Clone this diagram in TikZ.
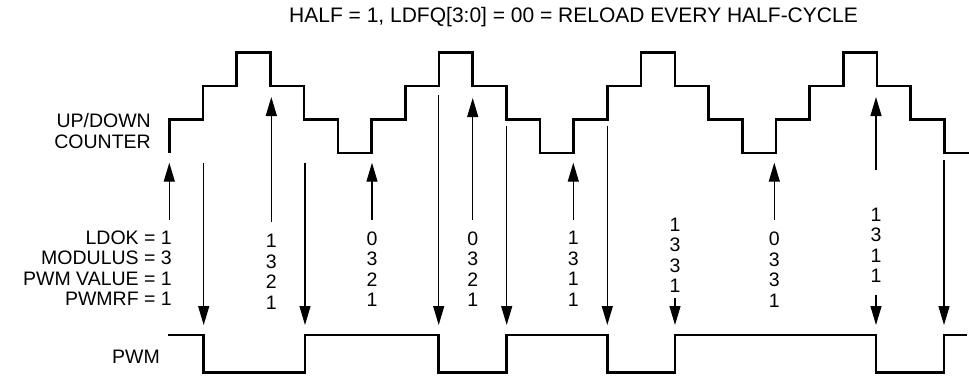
\documentclass[tikz,border=0pt]{standalone}
\usepackage{fontspec}
\setmainfont{Liberation Sans}
\usetikzlibrary{arrows.meta}
\tikzset{
  wave/.style={line width=2.6pt,line join=miter},
  trig/.style={line width=1.25pt,-{Triangle[length=19pt,width=11pt]}},
  caption/.style={font=\fontsize{19.5}{20.5}\selectfont,inner sep=0pt},
  headline/.style={font=\fontsize{21}{22}\selectfont,inner sep=0pt},
  vals/.style={caption,align=center},
  sigtag/.style={caption,align=right,anchor=east},
}

\begin{document}
\begin{tikzpicture}[x=1pt,y=-1pt]
\useasboundingbox (0,0) rectangle (969,381);

% Title
\node[headline] (title) at (573.5,17) {HALF = 1, LDFQ[3:0] = 00 = RELOAD EVERY HALF-CYCLE};

% Signal names
\node[sigtag] (cnt) at (151,131) {UP/DOWN\\COUNTER};
\node[sigtag] (regs) at (172,268) {LDOK = 1\\MODULUS = 3\\PWM VALUE = 1\\PWMRF = 1};
\node[sigtag] (pwm) at (160,357) {PWM};

% Up/down counter: step 33.7, level 33.6
\draw[wave] (169.3,153) \foreach \c in {0,...,3}{
  -- ++(0,-33.6) -- ++(33.7,0) -- ++(0,-33.6) -- ++(33.7,0) -- ++(0,-33.6) -- ++(33.7,0)
  -- ++(0,33.6) -- ++(33.7,0) -- ++(0,33.6) -- ++(33.7,0) -- ++(0,33.6) -- ++(33.7,0)};

% PWM output
\draw[wave] (168.3,335) -- (203.7,335) -- (203.7,372.7) -- (305,372.7) -- (305,335)
  -- (438.7,335) -- (438.7,372.7) -- (506.7,372.7) -- (506.7,335)
  -- (607.3,335) -- (607.3,372.7) -- (675,372.7) -- (675,335)
  -- (876,335) -- (876,372.7) -- (944,372.7) -- (944,335) -- (967,335);

% Reload / compare events
\foreach \x/\ya/\yb in {169.3/220/162.7,203.7/162.7/325,271.3/222/97,305/162.7/325,
  372/220/162.7,438.7/95/325,472.7/220/98,506.7/126/325,573.3/220/162.7,607.3/126/325,
  675/298/325,774.3/220/162.7,876/170/97,876/295/325,944/160/325}{
  \draw[trig] (\x,\ya) -- (\x,\yb);
}

% Loaded values
\node[vals] (v1) at (271.3,271.7) {1\\3\\2\\1};
\node[vals] (v2) at (372,269) {0\\3\\2\\1};
\node[vals] (v3) at (472.7,269) {0\\3\\2\\1};
\node[vals] (v4) at (573.3,269) {1\\3\\1\\1};
\node[vals] (v5) at (675,255.5) {1\\3\\3\\1};
\node[vals] (v6) at (774.3,269.5) {0\\3\\3\\1};
\node[vals] (v7) at (876,245.5) {1\\3\\1\\1};

\end{tikzpicture}
\end{document}
